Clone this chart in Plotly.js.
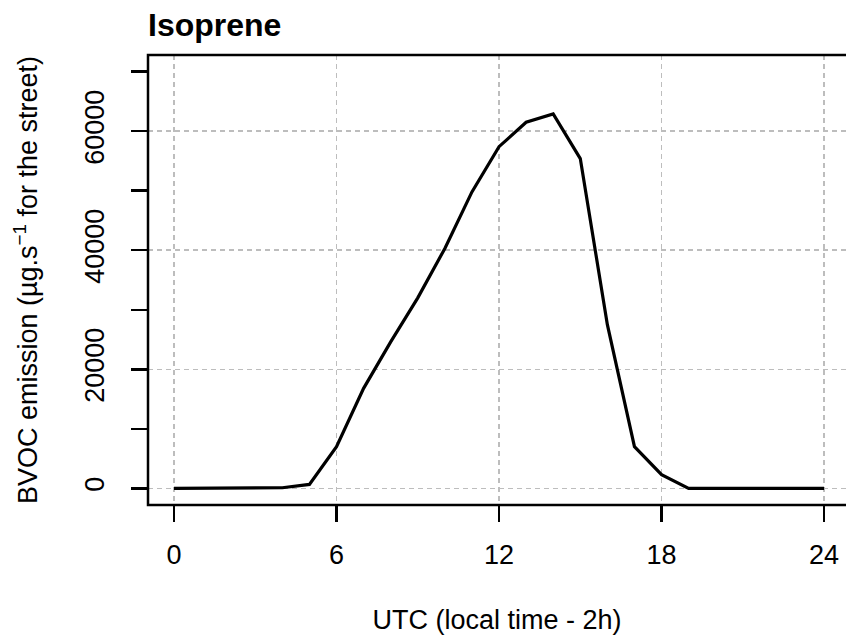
<!DOCTYPE html>
<html>
<head>
<meta charset="utf-8">
<script src="https://cdn.plot.ly/plotly-3.0.1.min.js"></script>
<style>html,body{margin:0;padding:0;background:#fff;}</style>
</head>
<body>
<div id="chart" style="width:846px;height:635px;"></div>
<script>
// Data
const hours = [0,1,2,3,4,5,6,7,8,9,10,11,12,13,14,15,16,17,18,19,20,21,22,23,24];
const isoprene = [0,0,0,0,100,650,7000,16800,24600,32000,40300,49800,57400,61500,62900,55400,27500,7000,2300,0,0,0,0,0,0];
const xTicks = [0,6,12,18,24];
const yTicks = [0,20000,40000,60000];
const yMinorTicks = [10000,30000,50000,70000];
const chartTitle = 'Isoprene';
const xTitle = 'UTC (local time - 2h)';
const yTitle = 'BVOC emission (µg.s<sup>−1</sup> for the street)';

const FONT = 'Liberation Sans, Arial, Helvetica, sans-serif';
const gridColor = '#bdbdbd';
const gridDash = '5px,4px';

const shapes = [{
  type: 'rect', xref: 'paper', yref: 'paper', x0: 0, x1: 1.05, y0: 0, y1: 1,
  line: {color: 'black', width: 2.5}, fillcolor: 'rgba(0,0,0,0)', layer: 'above'
}];

const trace = {
  x: hours, y: isoprene, type: 'scatter', mode: 'lines',
  line: {color: 'black', width: 3.2}, hoverinfo: 'x+y'
};

const layout = {
  width: 846, height: 635,
  margin: {l: 148, r: 0, t: 55, b: 130, pad: 0},
  paper_bgcolor: 'white', plot_bgcolor: 'white',
  showlegend: false,
  font: {family: FONT, size: 27, color: 'black'},
  title: {
    text: '<b>' + chartTitle + '</b>',
    font: {family: FONT, size: 32, color: 'black'},
    xref: 'paper', x: 0, xanchor: 'left',
    yref: 'container', y: 0.961, yanchor: 'middle'
  },
  xaxis: {
    range: [-0.96, 24.81],
    tickmode: 'array', tickvals: xTicks, ticktext: xTicks.map(String),
    ticks: 'outside', ticklen: 16, tickwidth: 2.5, tickcolor: 'black',
    showgrid: true, gridcolor: gridColor, gridwidth: 1.5, griddash: gridDash,
    zeroline: false, showline: false,
    tickfont: {family: FONT, size: 27, color: 'black'},
    ticklabelstandoff: 10,
    title: {text: xTitle, font: {family: FONT, size: 27, color: 'black'}, standoff: 41}
  },
  yaxis: {
    range: [-2800, 72800],
    tickmode: 'array', tickvals: yTicks, ticktext: yTicks.map(String),
    ticks: 'outside', ticklen: 16, tickwidth: 2.5, tickcolor: 'black',
    minor: {tickmode: 'array', tickvals: yMinorTicks, ticks: 'outside', ticklen: 16,
            tickwidth: 2.5, tickcolor: 'black', showgrid: false},
    tickangle: -90,
    showgrid: true, gridcolor: gridColor, gridwidth: 1.5, griddash: gridDash,
    zeroline: false, showline: false,
    tickfont: {family: FONT, size: 27, color: 'black'},
    ticklabelstandoff: 16,
    title: {text: yTitle, font: {family: FONT, size: 27, color: 'black'}, standoff: 34}
  },
  shapes: shapes
};

Plotly.newPlot('chart', [trace], layout, {displayModeBar: false, staticPlot: true});
</script>
</body>
</html>
